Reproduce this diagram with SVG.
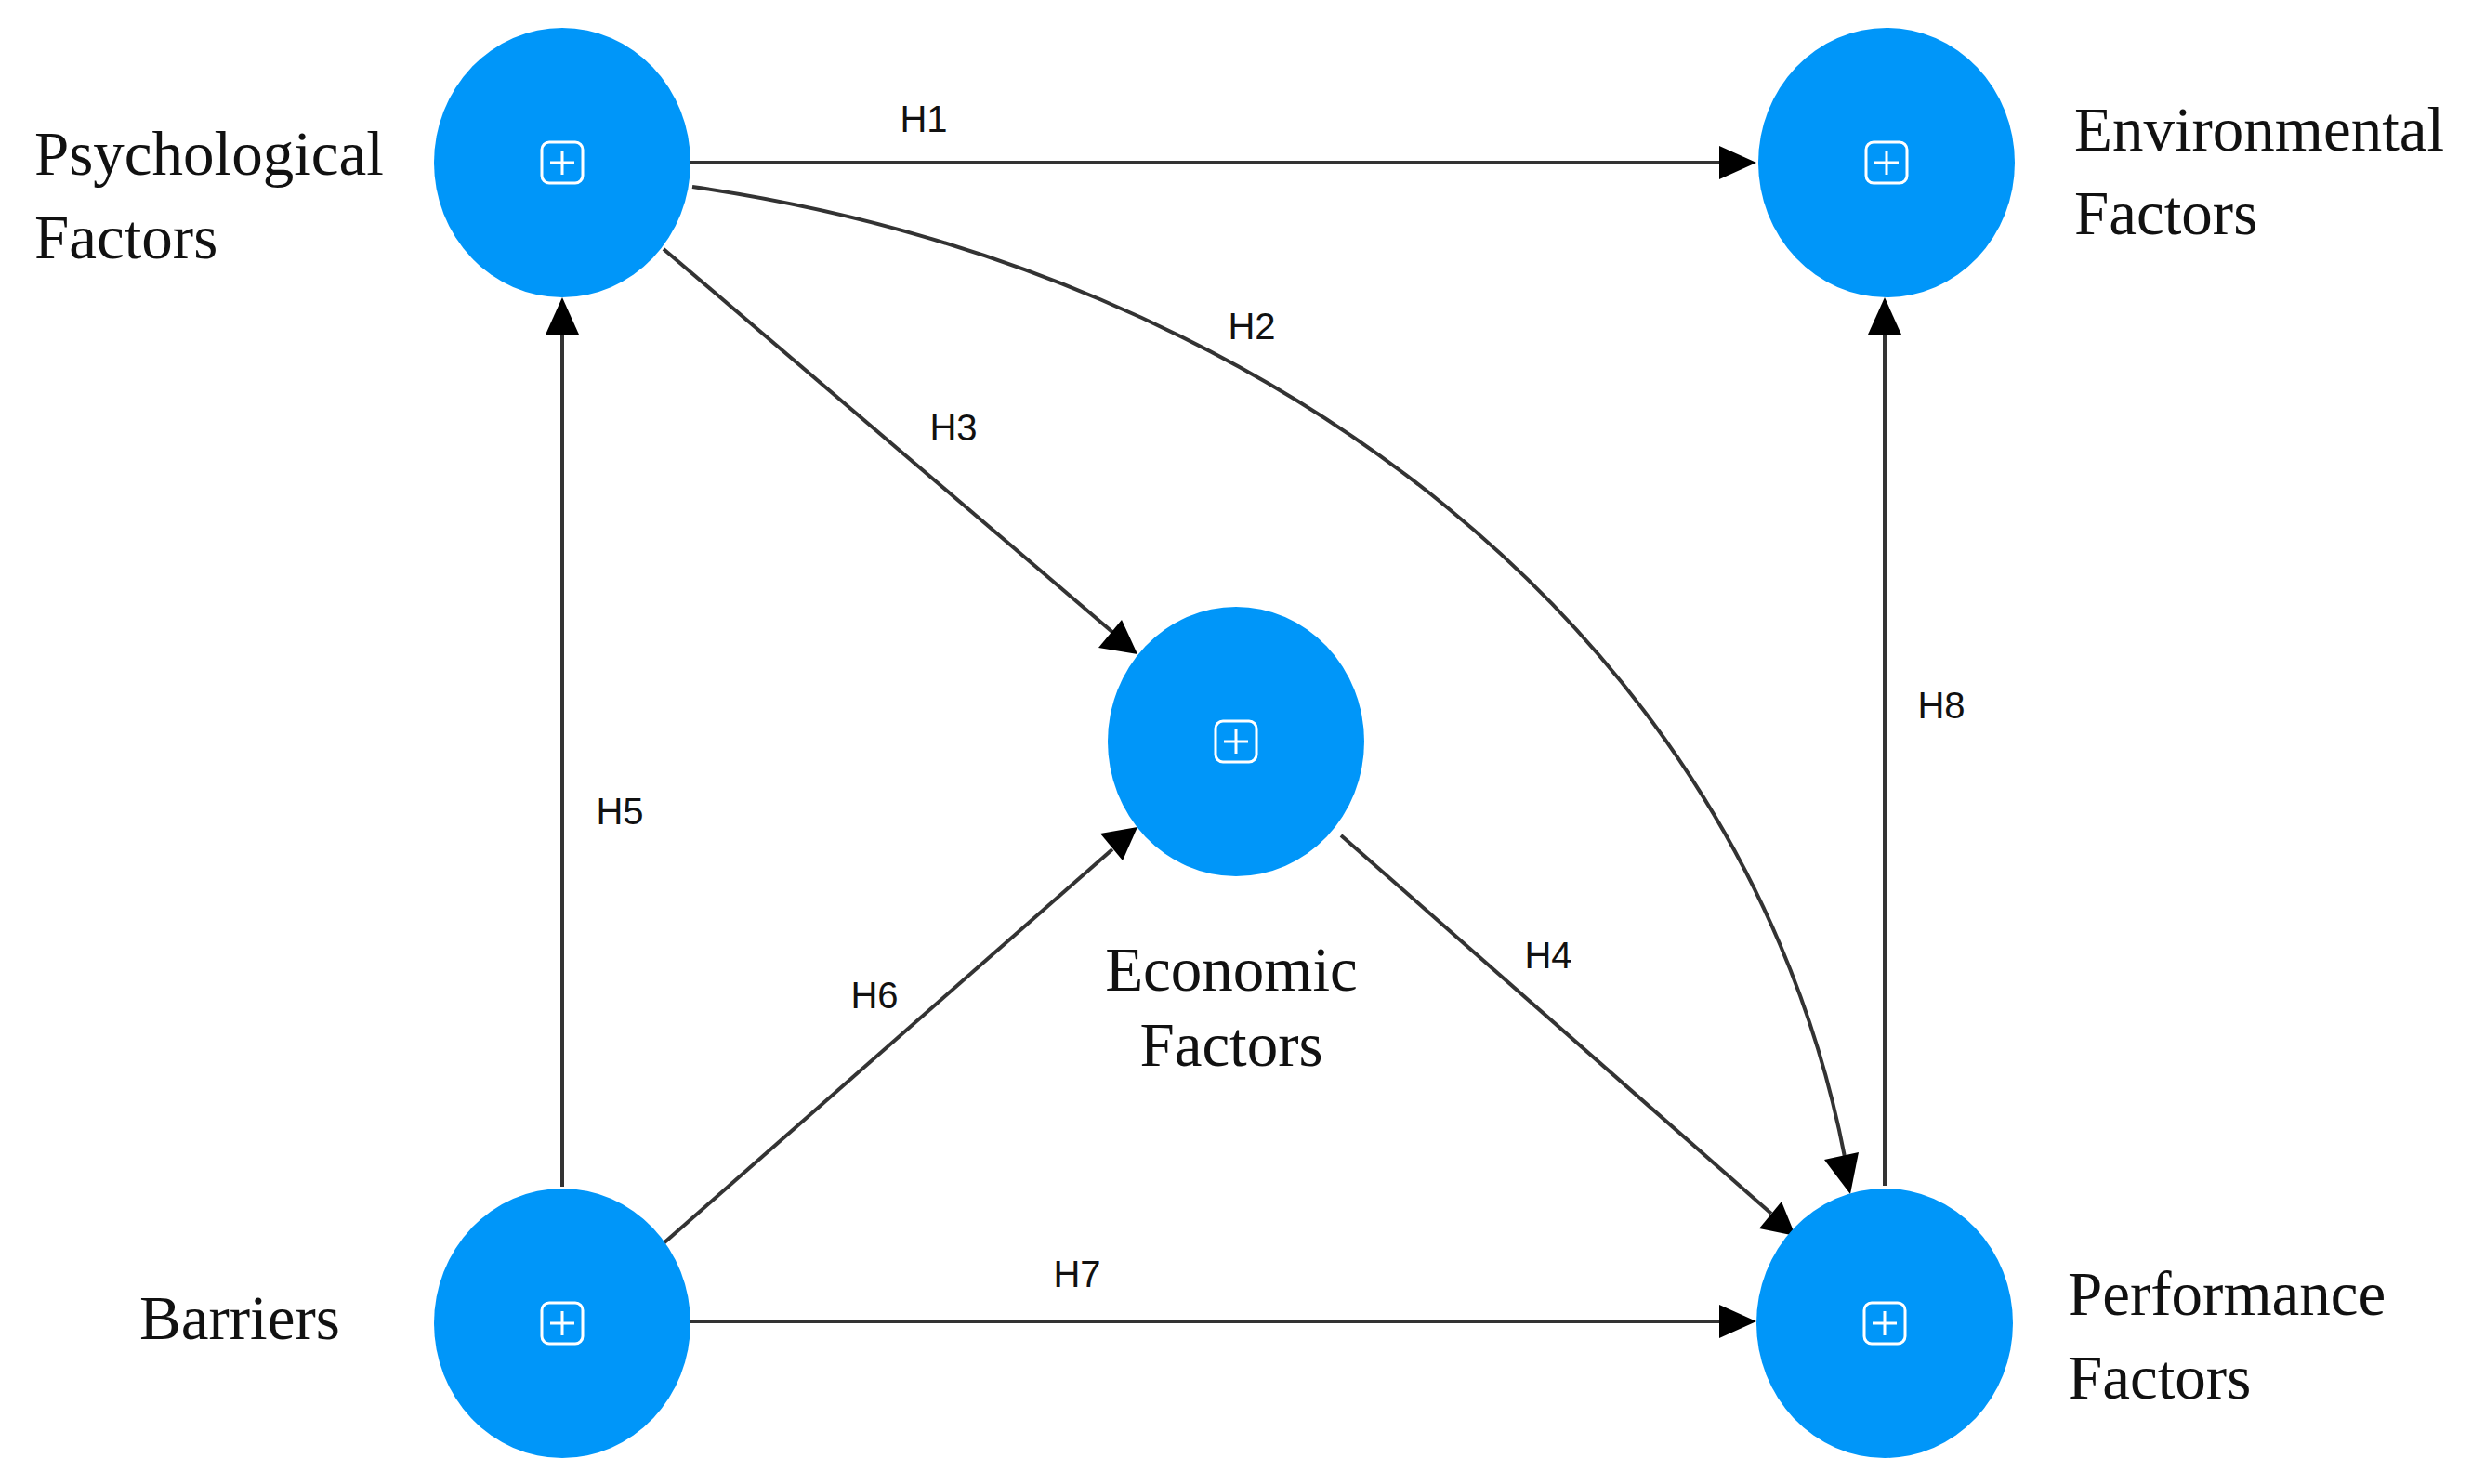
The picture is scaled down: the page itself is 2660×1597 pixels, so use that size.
<svg xmlns="http://www.w3.org/2000/svg" width="2660" height="1597" viewBox="0 0 2660 1597">
<defs>
<style>
.n{fill:#0096f9}
.ic{fill:none;stroke:#fff;stroke-width:3}
.lbl{font-family:"Liberation Serif",serif;font-size:67px;fill:#111}
.h{font-family:"Liberation Sans",Arial,sans-serif;font-size:40px;fill:#111;text-anchor:middle;dominant-baseline:central}
.e{fill:none;stroke:#333;stroke-width:4}
</style>
<g id="icon"><rect class="ic" x="-22" y="-22" width="44" height="44" rx="8"/><path class="ic" d="M0,-13 V13 M-13,0 H13"/></g>
</defs>
<rect width="2660" height="1597" fill="#fff"/>
<g id="connectors">
<path class="e" d="M743,175 H1850"/>
<path d="M1850,157 L1890,175 L1850,193 Z"/>
<path class="e" d="M745,201 C1364,290 1876,682 1985,1245"/>
<path d="M1963,1248 L1991,1285 L2000,1240 Z"/>
<path class="e" d="M714,268 L1198,681"/>
<path d="M1182,697 L1224,704 L1207,667 Z"/>
<path class="e" d="M605,1277 V360"/>
<path d="M587,360 L605,320 L623,360 Z"/>
<path class="e" d="M714,1338 L1197,914"/>
<path d="M1184,897 L1224,890 L1208,926 Z"/>
<path class="e" d="M1443,899 L1906,1306"/>
<path d="M1893,1322 L1932,1330 L1917,1293 Z"/>
<path class="e" d="M743,1422 H1850"/>
<path d="M1850,1404 L1890,1422 L1850,1440 Z"/>
<path class="e" d="M2028,1276 V360"/>
<path d="M2010,360 L2028,320 L2046,360 Z"/>
<text class="h" x="994" y="128">H1</text>
<text class="h" x="1347" y="351">H2</text>
<text class="h" x="1026" y="460">H3</text>
<text class="h" x="1666" y="1028">H4</text>
<text class="h" x="667" y="873">H5</text>
<text class="h" x="941" y="1071">H6</text>
<text class="h" x="1159" y="1371">H7</text>
<text class="h" x="2089" y="759">H8</text>
</g>
<g id="psychological"><ellipse class="n" cx="605" cy="175" rx="138" ry="145"/><use href="#icon" x="605" y="175"/>
<text class="lbl" x="37" y="188">Psychological</text><text class="lbl" x="37" y="278">Factors</text></g>
<g id="environmental"><ellipse class="n" cx="2030" cy="175" rx="138" ry="145"/><use href="#icon" x="2030" y="175"/>
<text class="lbl" x="2232" y="162">Environmental</text><text class="lbl" x="2232" y="252">Factors</text></g>
<g id="economic"><ellipse class="n" cx="1330" cy="798" rx="138" ry="145"/><use href="#icon" x="1330" y="798"/>
<text class="lbl" x="1325" y="1066" text-anchor="middle">Economic</text><text class="lbl" x="1325" y="1147" text-anchor="middle">Factors</text></g>
<g id="barriers"><ellipse class="n" cx="605" cy="1424" rx="138" ry="145"/><use href="#icon" x="605" y="1424"/>
<text class="lbl" x="150" y="1441">Barriers</text></g>
<g id="performance"><ellipse class="n" cx="2028" cy="1424" rx="138" ry="145"/><use href="#icon" x="2028" y="1424"/>
<text class="lbl" x="2225" y="1415">Performance</text><text class="lbl" x="2225" y="1505">Factors</text></g>
</svg>
